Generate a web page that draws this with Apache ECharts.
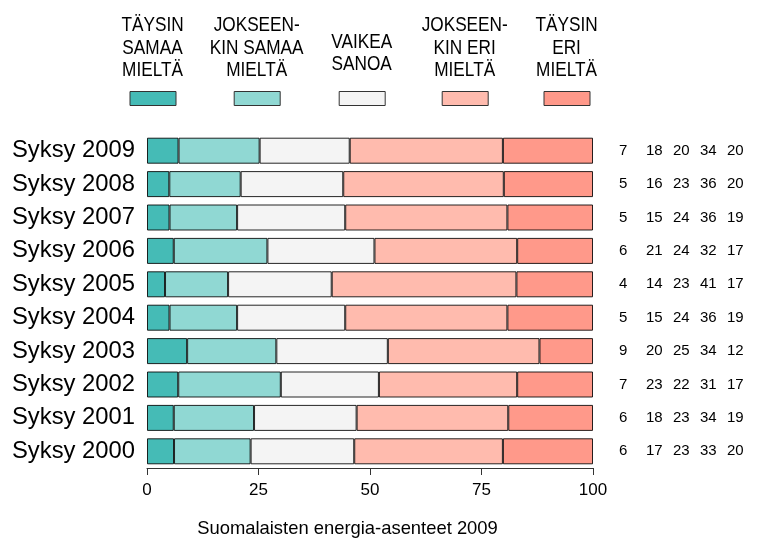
<!DOCTYPE html>
<html>
<head>
<meta charset="utf-8">
<script src="https://cdn.jsdelivr.net/npm/echarts@6/dist/echarts.min.js"></script>
<style>
    html, body { margin: 0; padding: 0; background: #fff; }
    #chart { width: 772px; height: 542px; }
</style>
</head>
<body>
<div id="chart"></div>
<script>
// Vastaajaryhmät (ylhäältä alas)
var categories = ['Syksy 2009', 'Syksy 2008', 'Syksy 2007', 'Syksy 2006', 'Syksy 2005',
    'Syksy 2004', 'Syksy 2003', 'Syksy 2002', 'Syksy 2001', 'Syksy 2000'];
var seriesNames = ['TÄYSIN\nSAMAA\nMIELTÄ', 'JOKSEEN-\nKIN SAMAA\nMIELTÄ', 'VAIKEA\nSANOA',
    'JOKSEEN-\nKIN ERI\nMIELTÄ', 'TÄYSIN\nERI\nMIELTÄ'];
// Prosenttiosuudet vastausvaihtoehdoittain
var taysinSamaa = [7, 5, 5, 6, 4, 5, 9, 7, 6, 6];
var jokseenkinSamaa = [18, 16, 15, 21, 14, 15, 20, 23, 18, 17];
var vaikeaSanoa = [20, 23, 24, 24, 23, 24, 25, 22, 23, 23];
var jokseenkinEri = [34, 36, 36, 32, 41, 36, 34, 31, 34, 33];
var taysinEri = [20, 20, 19, 17, 17, 19, 12, 17, 19, 20];
var xTicks = [0, 25, 50, 75, 100];

var values = [taysinSamaa, jokseenkinSamaa, vaikeaSanoa, jokseenkinEri, taysinEri];
var colors = ['#45bbb6', '#90d8d3', '#f4f4f4', '#ffbbae', '#ff998a'];
var legendX = [152.5, 256.7, 361.7, 464.7, 566.5];
var FONT = '"Liberation Sans", Arial, sans-serif';

function rowSum(i) {
    var s = 0;
    for (var k = 0; k < values.length; k++) s += values[k][i];
    return s;
}

/**
 * @description piirtää kaavion
 */
function loadChart() {
    var myChart = echarts.init(document.getElementById('chart'), null, {renderer: 'canvas'});
    var series = [];
    var legends = [];
    var graphics = [];
    for (var k = 0; k < values.length; k++) {
        var data = [];
        for (var i = 0; i < categories.length; i++) {
            data.push(values[k][i] / rowSum(i) * 100);
        }
        series.push({
            name: seriesNames[k],
            type: 'bar',
            stack: 'total',
            barWidth: 26,
            data: data,
            itemStyle: {color: colors[k], borderColor: 'rgba(0,0,0,0.85)', borderWidth: 1},
            emphasis: {disabled: true}
        });
        legends.push({
            data: [seriesNames[k]],
            left: legendX[k] - 23,
            top: 91,
            padding: 0,
            itemWidth: 46,
            itemHeight: 14,
            icon: 'rect',
            selectedMode: false,
            formatter: function () { return ''; },
            itemStyle: {borderColor: '#333', borderWidth: 1}
        });
        // selitteen teksti kavennettuna (kapeaa fonttia ei ole)
        var lines = seriesNames[k].split('\n').length;
        graphics.push({
            type: 'text',
            x: legendX[k],
            y: lines === 3 ? 48.2 : 53.4,
            scaleX: 0.82,
            style: {
                text: seriesNames[k],
                x: 0,
                y: 0,
                align: 'center',
                verticalAlign: 'middle',
                font: '21px ' + FONT,
                lineHeight: 22.5,
                fill: '#000'
            }
        });
    }
    graphics.push({
        type: 'text',
        style: {
            text: 'Suomalaisten energia-asenteet 2009',
            x: 347.5,
            y: 529,
            align: 'center',
            verticalAlign: 'middle',
            font: '18.4px ' + FONT,
            fill: '#000'
        }
    });

    var option = {
        animation: false,
        grid: {left: 147, right: 179, top: 134, bottom: 74},
        legend: legends,
        xAxis: {
            type: 'value',
            min: 0,
            max: 100,
            interval: 25,
            splitLine: {show: false},
            axisLine: {show: true, lineStyle: {color: '#333', width: 1}},
            axisTick: {show: true, length: 7, lineStyle: {color: '#333'}},
            axisLabel: {
                margin: 14,
                fontSize: 17,
                color: '#000',
                fontFamily: FONT,
                formatter: function (v) { return xTicks.indexOf(v) >= 0 ? String(v) : ''; }
            }
        },
        yAxis: [{
            type: 'category',
            data: categories,
            inverse: true,
            axisLine: {show: false},
            axisTick: {show: false},
            axisLabel: {
                margin: 12,
                fontSize: 23.8,
                color: '#000',
                fontFamily: FONT
            }
        }, {
            type: 'category',
            data: categories,
            inverse: true,
            position: 'right',
            axisLine: {show: false},
            axisTick: {show: false},
            axisLabel: {
                margin: 26,
                align: 'left',
                formatter: function (v, i) {
                    var s = '';
                    for (var k = 0; k < values.length; k++) {
                        s += '{n|' + values[k][i] + '}';
                    }
                    return s;
                },
                rich: {
                    n: {
                        width: 27,
                        align: 'left',
                        fontSize: 15,
                        color: '#000',
                        fontFamily: FONT
                    }
                }
            }
        }],
        graphic: graphics,
        series: series
    };
    myChart.setOption(option, true);
}

loadChart();
</script>
</body>
</html>
